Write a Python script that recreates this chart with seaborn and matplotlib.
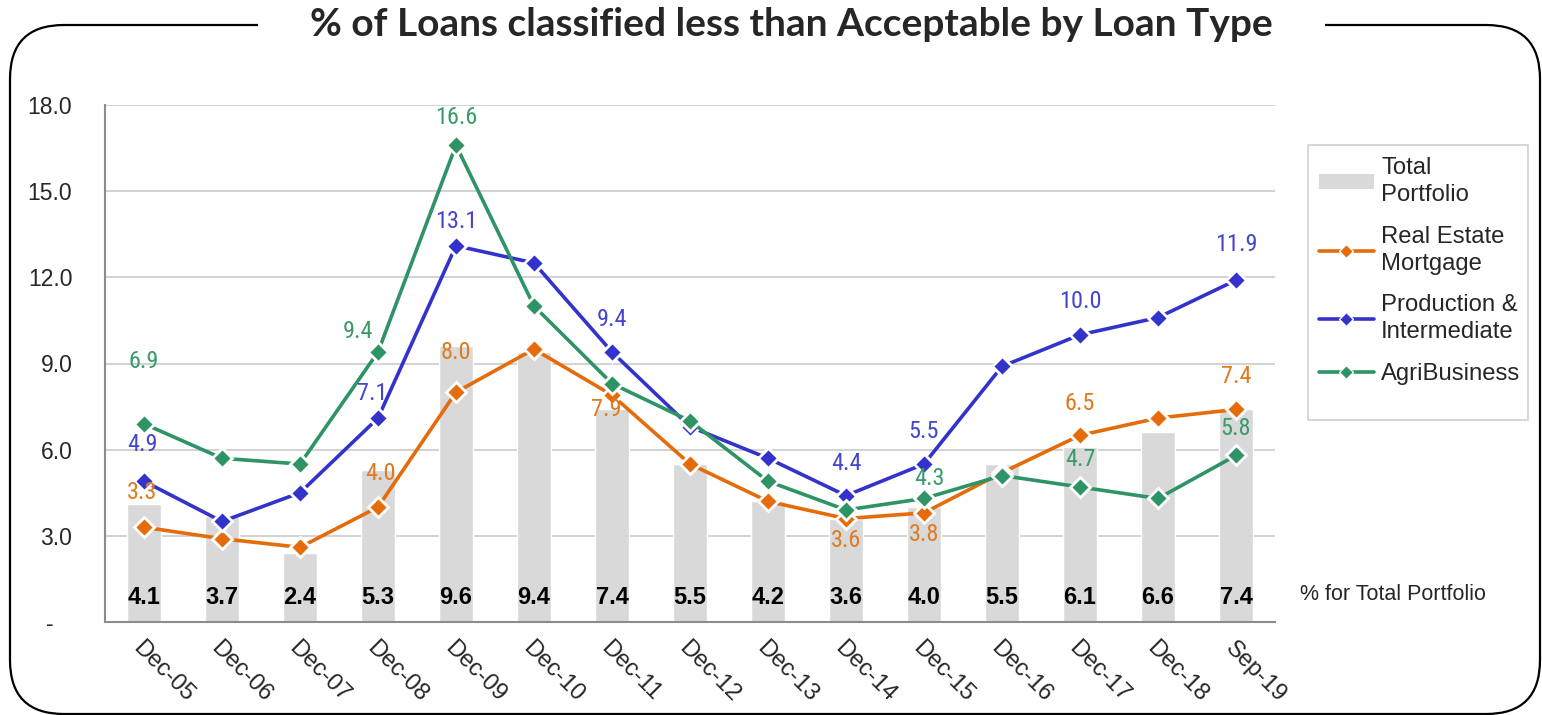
import numpy as np
import pandas as pd
import matplotlib
matplotlib.use("Agg")
import matplotlib.pyplot as plt
import seaborn as sns
from matplotlib import font_manager
from matplotlib.patches import FancyBboxPatch, Patch, Rectangle
from matplotlib.lines import Line2D

# ---------------- data ----------------
categories = ["Dec-05", "Dec-06", "Dec-07", "Dec-08", "Dec-09", "Dec-10", "Dec-11", "Dec-12",
              "Dec-13", "Dec-14", "Dec-15", "Dec-16", "Dec-17", "Dec-18", "Sep-19"]
total_portfolio = [4.1, 3.7, 2.4, 5.3, 9.6, 9.4, 7.4, 5.5, 4.2, 3.6, 4.0, 5.5, 6.1, 6.6, 7.4]
real_estate = [3.3, 2.9, 2.6, 4.0, 8.0, 9.5, 7.9, 5.5, 4.2, 3.6, 3.8, 5.2, 6.5, 7.1, 7.4]
production = [4.9, 3.5, 4.5, 7.1, 13.1, 12.5, 9.4, 6.8, 5.7, 4.4, 5.5, 8.9, 10.0, 10.6, 11.9]
agribusiness = [6.9, 5.7, 5.5, 9.4, 16.6, 11.0, 8.3, 7.0, 4.9, 3.9, 4.3, 5.1, 4.7, 4.3, 5.8]
series_names = ["Real Estate Mortgage", "Production & Intermediate", "AgriBusiness"]
legend_labels = ["Total\nPortfolio", "Real Estate\nMortgage", "Production &\nIntermediate", "AgriBusiness"]
y_ticks = [0, 3, 6, 9, 12, 15, 18]
y_tick_labels = ["-   ", "3.0", "6.0", "9.0", "12.0", "15.0", "18.0"]
title = "% of Loans classified less than Acceptable by Loan Type"

# layout: which points carry a value label, with label offset in pixels (dx, dy above point)
label_layout = {
    "Real Estate Mortgage": {0: (-2, 35), 3: (3, 34), 4: (0, 40), 6: (-6, -14), 9: (0, -22),
                             10: (0, -22), 12: (0, 32), 14: (0, 33)},
    "Production & Intermediate": {0: (-2, 37), 3: (-6, 25), 4: (0, 24), 6: (0, 33), 9: (0, 32),
                                  10: (0, 33), 12: (0, 33), 14: (0, 36)},
    "AgriBusiness": {0: (0, 62), 3: (-20, 21), 4: (0, 28), 10: (5, 20), 12: (0, 28), 14: (0, 27)},
}

colors = {"Real Estate Mortgage": "#E46C0A", "Production & Intermediate": "#3333CC", "AgriBusiness": "#2E9466"}
label_colors = {"Real Estate Mortgage": "#E07A1F", "Production & Intermediate": "#4545D0", "AgriBusiness": "#3A9A6C"}
bar_color = "#D9D9D9"

available = {f.name for f in font_manager.fontManager.ttflist}
narrow = None
for cand in ["Liberation Sans Narrow", "Roboto Condensed", "Open Sans Condensed", "DejaVu Sans Condensed"]:
    if cand in available:
        narrow = cand
        break
if narrow is None:
    narrow = "Roboto"
    label_size = 15
else:
    label_size = 17.5

# ---------------- figure ----------------
W, H = 1542, 715
fig = plt.figure(figsize=(W / 100, H / 100), dpi=100)
sns.set_style("white")
plt.rcParams["font.family"] = ["Liberation Sans", "DejaVu Sans"]

ax = fig.add_axes([105 / W, 1 - 622 / H, (1275 - 105) / W, (622 - 105) / H])

df_bar = pd.DataFrame({"cat": categories, "value": total_portfolio})
sns.barplot(data=df_bar, x="cat", y="value", color=bar_color, width=0.44,
            saturation=1, ax=ax, zorder=1)

pos = np.arange(len(categories))
long = pd.DataFrame({
    "pos": np.tile(pos, 3),
    "value": real_estate + production + agribusiness,
    "series": np.repeat(series_names, len(categories)),
})
sns.lineplot(data=long, x="pos", y="value", hue="series", palette=colors,
             hue_order=series_names, marker="D", markersize=10, markeredgecolor="white",
             markeredgewidth=2, linewidth=2.6, legend=False, ax=ax, zorder=3)

ax.set_xlim(-0.5, len(categories) - 0.5)
ax.set_ylim(0, 18)
ax.set_yticks(y_ticks)
ax.set_yticklabels(y_tick_labels, fontsize=16.5)
ax.set_xlabel("")
ax.set_ylabel("")
ax.grid(axis="y", color="#CFCFCF", linewidth=1.3, zorder=0)
ax.set_axisbelow(True)
for s in ["top", "right"]:
    ax.spines[s].set_visible(False)
for s in ["left", "bottom"]:
    ax.spines[s].set_color("#8C8C8C")
    ax.spines[s].set_linewidth(1.5)

ax.set_xticks(pos)
ax.set_xticklabels(categories, rotation=-45, ha="left", va="top", rotation_mode="anchor", fontsize=17)
ax.tick_params(axis="x", length=0, pad=11)
ax.set_xticks(np.arange(-0.5, len(categories)), minor=True)
ax.tick_params(axis="x", which="minor", length=7, color="#8C8C8C", width=1.5, direction="out")
ax.tick_params(axis="y", length=7, color="#8C8C8C", width=1.5, direction="out", pad=16.5)

# total portfolio labels in bars
for i, v in enumerate(total_portfolio):
    ax.text(i, 0.85, f"{v:.1f}", ha="center", va="center", fontsize=17, fontweight="bold",
            color="black", zorder=5)

# series data labels
series_vals = {"Real Estate Mortgage": real_estate, "Production & Intermediate": production,
               "AgriBusiness": agribusiness}
for name, pts in label_layout.items():
    vals = series_vals[name]
    for i, (dx, dy) in pts.items():
        ax.annotate(f"{vals[i]:.1f}", (i, vals[i]), xytext=(dx * 0.72, dy * 0.72),
                    textcoords="offset points", ha="center", va="center",
                    fontsize=label_size, color=label_colors[name], zorder=6,
                    family=[narrow, "DejaVu Sans"])

fig.text(1300 / W, 1 - 594 / H, "% for Total Portfolio", fontsize=15.5, ha="left", va="center")

# legend
fig.add_artist(Rectangle((1308 / W, 1 - 420 / H), 220 / W, 275 / H, transform=fig.transFigure,
                         facecolor="white", edgecolor="#D0D0D0", linewidth=1.2, zorder=0))
handles = [Patch(facecolor=bar_color, edgecolor="none")]
for name in series_names:
    handles.append(Line2D([0], [0], color=colors[name], linewidth=2.6, marker="D", markersize=7,
                          markeredgecolor="white", markeredgewidth=1))
leg = fig.legend(handles, legend_labels, loc="upper left",
                 bbox_to_anchor=(1319 / W, 1 - 157 / H), bbox_transform=fig.transFigure,
                 frameon=False, fontsize=17.2, handlelength=2.3, handleheight=0.6,
                 labelspacing=0.82, borderpad=0, borderaxespad=0, handletextpad=0.3)
for t in leg.get_texts():
    t.set_linespacing(1.3)

# outer rounded frame with title gap
frame = FancyBboxPatch((10 / W, 1 - 714 / H), (1540 - 10) / W, (714 - 25) / H,
                       boxstyle="round,pad=0,rounding_size=0.035", transform=fig.transFigure,
                       facecolor="none", edgecolor="black", linewidth=1.6, zorder=0,
                       mutation_aspect=W / H)
fig.add_artist(frame)
fig.add_artist(Rectangle((258 / W, 1 - 40 / H), (1325 - 258) / W, 30 / H, transform=fig.transFigure,
                         facecolor="white", edgecolor="none", zorder=1))
fig.text(791 / W, 1 - 25 / H, title, ha="center", va="center", fontsize=28, fontweight="bold",
         family=["Lato", "DejaVu Sans"], zorder=2)

fig.savefig("out.png", dpi=100)
